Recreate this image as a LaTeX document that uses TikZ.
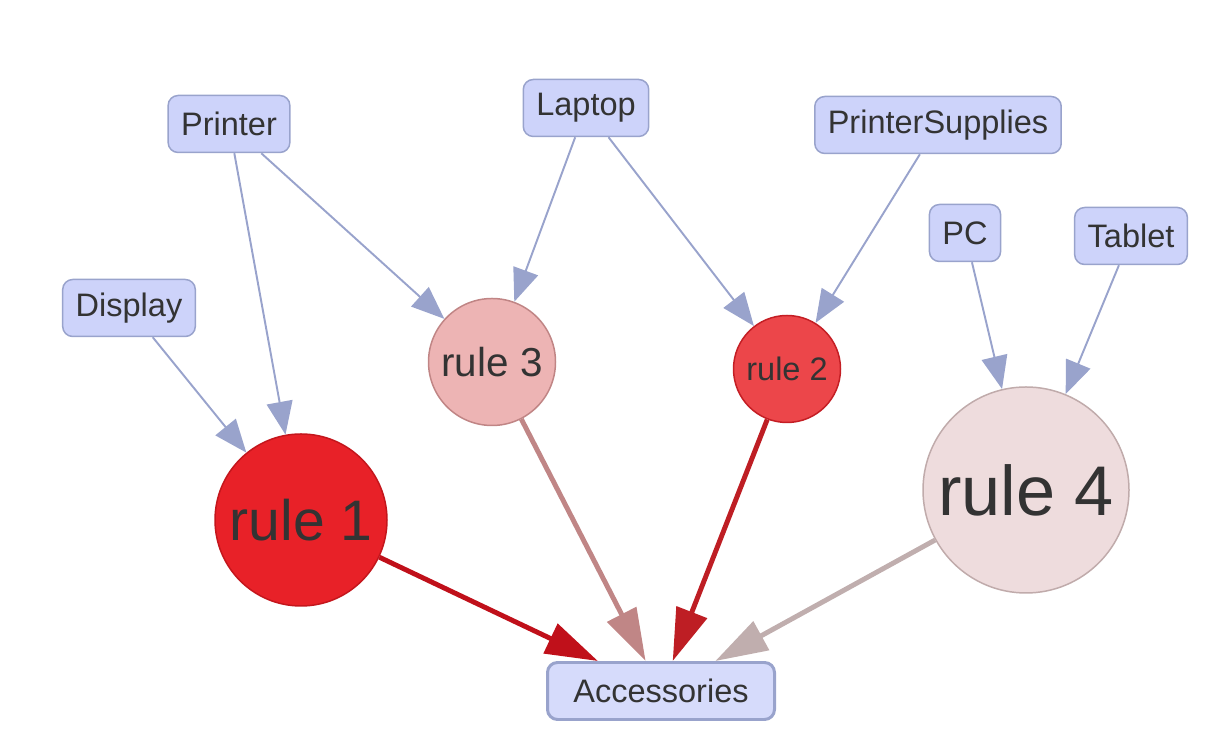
\documentclass[tikz,border=0pt]{standalone}
\usepackage{fontspec}
\setmainfont{Liberation Sans}
\usetikzlibrary{shapes,arrows.meta}

\definecolor{boxfill}{HTML}{CDD3FA}
\definecolor{boxline}{HTML}{99A3CC}
\definecolor{accfill}{HTML}{D6DBFB}
\definecolor{txt}{HTML}{333333}
\definecolor{fillA}{HTML}{E82128}
\definecolor{lineA}{HTML}{C4161C}
\definecolor{fillB}{HTML}{EC464A}
\definecolor{lineB}{HTML}{C41E24}
\definecolor{fillC}{HTML}{EDB4B4}
\definecolor{lineC}{HTML}{C08585}
\definecolor{fillD}{HTML}{EEDCDD}
\definecolor{lineD}{HTML}{C0ABAB}
\definecolor{edgeA}{HTML}{C0101A}
\definecolor{edgeB}{HTML}{BE1E24}
\definecolor{edgeC}{HTML}{C08686}
\definecolor{edgeD}{HTML}{C0AEAE}

\tikzset{
  item/.style={shape=rectangle,rounded corners=0.2cm,draw=boxline,fill=boxfill,text=txt,
    align=center,line width=0.85pt,minimum height=1.14cm,inner xsep=0.26cm,
    font=\fontsize{18.5}{22}\selectfont},
  rule/.style={shape=circle,inner sep=0pt,align=center,line width=0.85pt,text=txt},
  feed/.style={-{Triangle[length=0.66cm,width=0.52cm]},color=boxline,line width=1.1pt},
  conc/.style={-{Triangle[length=1.05cm,width=0.64cm]},line width=2.8pt}
}

\begin{document}
\begin{tikzpicture}
\useasboundingbox (0,0) rectangle (24.6,15.08);
\node[item] (0) at (4.58,12.6) {Printer};
\node[item] (1) at (11.72,12.92) {Laptop};
\node[item] (2) at (18.76,12.58) {PrinterSupplies};
\node[item] (3) at (19.3,10.42) {PC};
\node[item] (4) at (22.62,10.36) {Tablet};
\node[item] (5) at (2.58,8.92) {Display};
\node[item,fill=accfill,line width=1.7pt,minimum width=4.54cm] (6) at (13.22,1.26) {Accessories};
\node[rule,fill=fillA,draw=lineA,minimum size=3.44cm,font=\fontsize{32.5}{38}\selectfont] (7) at (6.02,4.68) {rule 1};
\node[rule,fill=fillC,draw=lineC,minimum size=2.54cm,font=\fontsize{23}{28}\selectfont] (8) at (9.84,7.84) {rule 3};
\node[rule,fill=fillB,draw=lineB,minimum size=2.14cm,font=\fontsize{18.5}{22}\selectfont] (9) at (15.74,7.7) {rule 2};
\node[rule,fill=fillD,draw=lineD,minimum size=4.12cm,font=\fontsize{40}{48}\selectfont] (10) at (20.52,5.28) {rule 4};

\path [feed] (5) edge (7);
\path [feed] (0) edge (7);
\path [feed] (0) edge (8);
\path [feed] (1) edge (8);
\path [feed] (1) edge (9);
\path [feed] (2) edge (9);
\path [feed] (3) edge (10);
\path [feed] (4) edge (10);

\path [conc,color=edgeA] (7) edge (6);
\path [conc,color=edgeC] (8) edge (6);
\path [conc,color=edgeB] (9) edge (6);
\path [conc,color=edgeD] (10) edge (6);
\end{tikzpicture}
\end{document}
